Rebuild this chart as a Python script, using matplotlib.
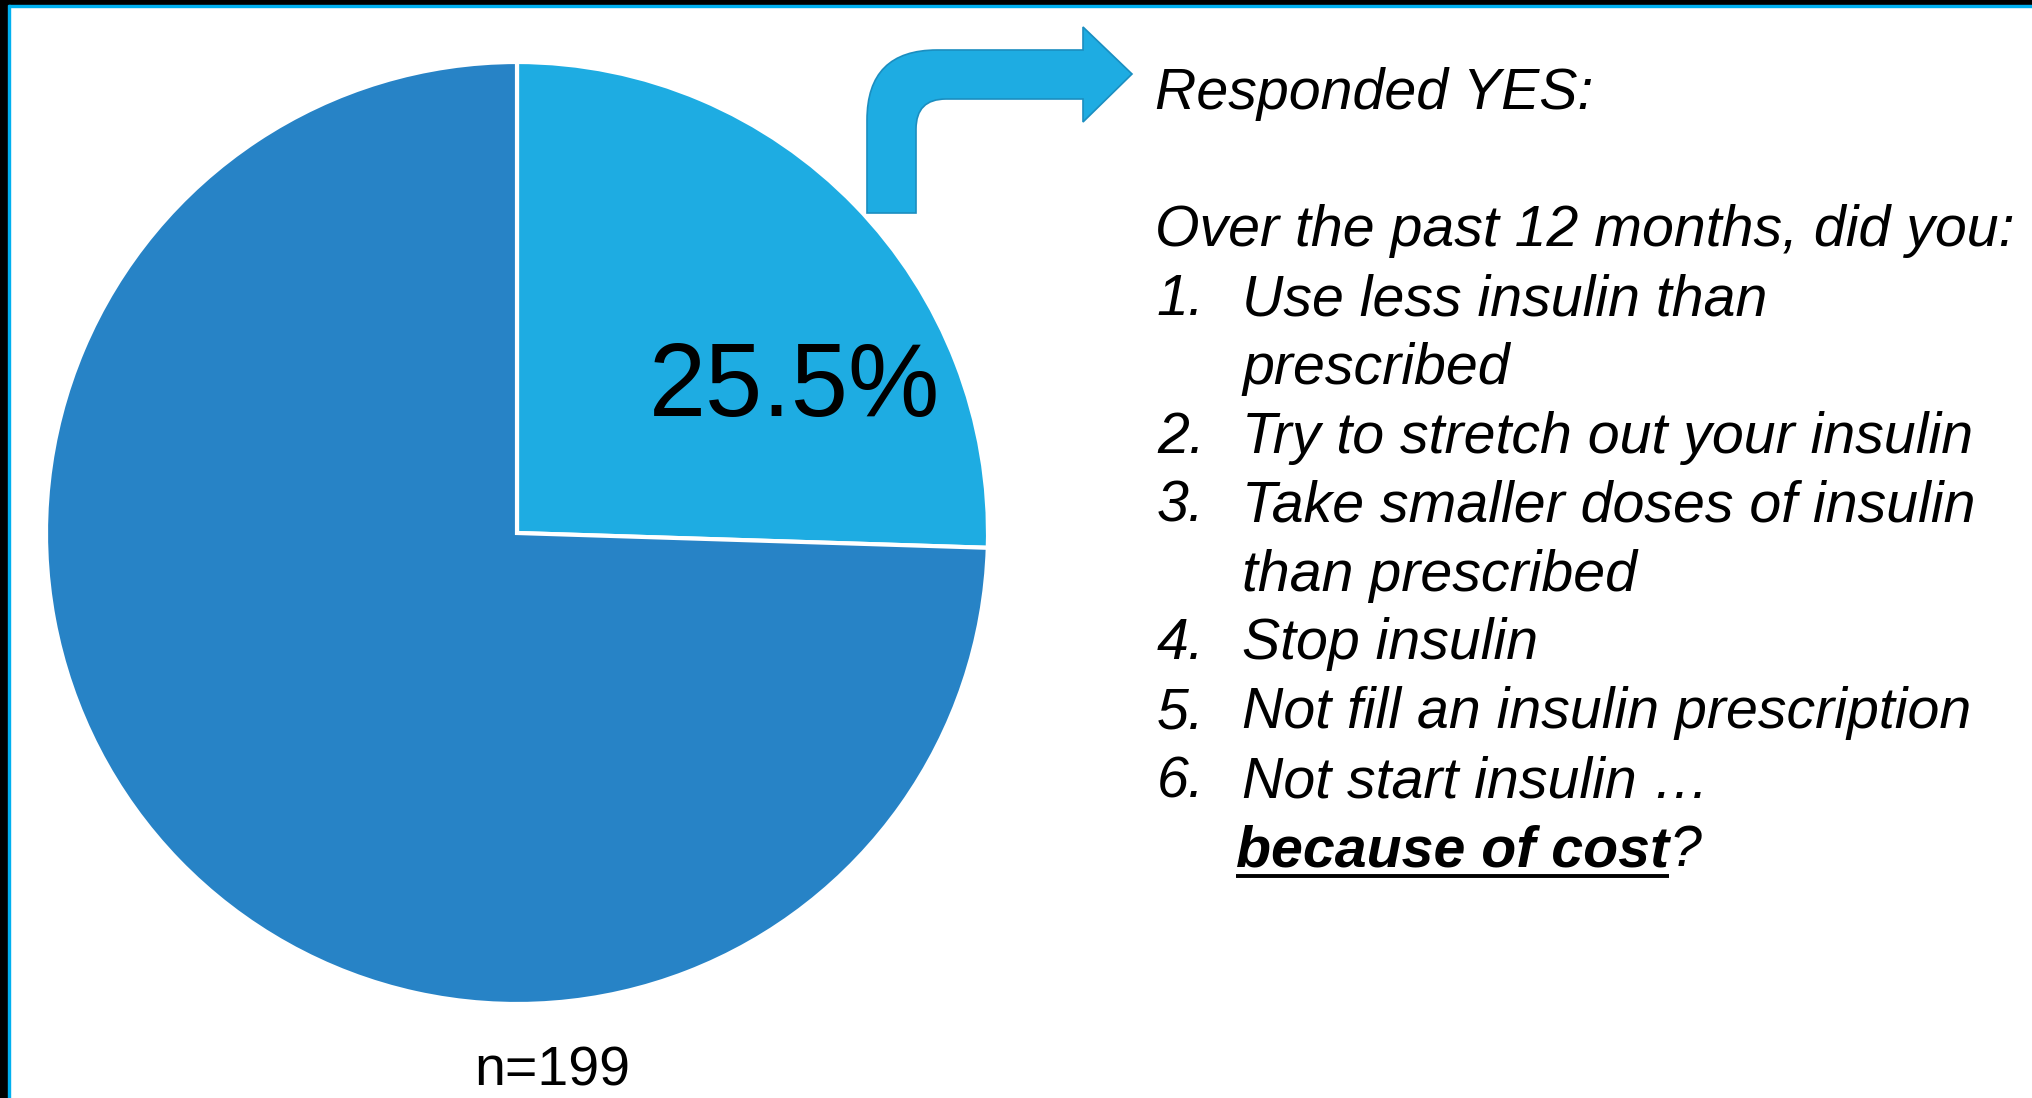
import matplotlib
matplotlib.use("Agg")
import matplotlib.pyplot as plt
from matplotlib.path import Path
from matplotlib.patches import PathPatch, Rectangle

# survey result
share_labels = ["Responded YES", "Responded NO"]
shares = [25.5, 74.5]
n_respondents = 199

heading = "Responded YES:"
question = "Over the past 12 months, did you:"
item_numbers = ["1.", "2.", "3.", "4.", "5.", "6."]
items = [
    ["Use less insulin than", "prescribed"],
    ["Try to stretch out your insulin"],
    ["Take smaller doses of insulin", "than prescribed"],
    ["Stop insulin"],
    ["Not fill an insulin prescription"],
    ["Not start insulin \u2026"],
]
reason = "because of cost"

W, H = 2033, 1098
light_blue = "#1EACE2"
dark_blue = "#2783C6"
font = "Liberation Sans"

fig = plt.figure(figsize=(W / 100, H / 100), dpi=100)
ax = fig.add_axes([0, 0, 1, 1])

def py(y):
    # pixel rows are counted from the top
    return H - y

# pie, starting at 12 o'clock and going clockwise
ax.pie(shares, colors=[light_blue, dark_blue], startangle=90, counterclock=False,
       center=(517, py(533)), radius=471,
       wedgeprops=dict(edgecolor="white", linewidth=3))
ax.set_xlim(0, W)
ax.set_ylim(0, H)
ax.set_aspect("equal")
ax.axis("off")

ax.text(795, py(416), f"{shares[0]}%", fontsize=74, family=font,
        ha="center", va="baseline", color="black")
ax.text(552, py(1086), f"n={n_respondents}", fontsize=40, family=font,
        ha="center", va="baseline", color="black")

# bent arrow pointing at the text
arrow_pts = [(867, 213), (867, 120), (867, 50), (937, 50), (1083, 50), (1083, 27),
             (1132, 74), (1083, 122), (1083, 99), (946, 99), (916, 99), (916, 129),
             (916, 213), (867, 213)]
codes = [Path.MOVETO, Path.LINETO, Path.CURVE3, Path.CURVE3, Path.LINETO, Path.LINETO,
         Path.LINETO, Path.LINETO, Path.LINETO, Path.LINETO, Path.CURVE3, Path.CURVE3,
         Path.LINETO, Path.CLOSEPOLY]
arrow = Path([(x, py(y)) for x, y in arrow_pts], codes)
ax.add_patch(PathPatch(arrow, facecolor=light_blue, edgecolor="#1B8EC0", linewidth=1.2))

# text block
fs = 41.2
x_num, x_txt = 1157, 1242
ax.text(1155, py(109), heading, fontsize=fs, family=font, style="italic", va="baseline")
ax.text(1155, py(246), question, fontsize=fs, family=font, style="italic", va="baseline")

line_gap = 68.9
y = 315
for num, lines in zip(item_numbers, items):
    ax.text(x_num, py(y), num, fontsize=fs, family=font, style="italic", va="baseline")
    for ln in lines:
        ax.text(x_txt, py(y), ln, fontsize=fs, family=font, style="italic", va="baseline")
        y += line_gap

t = ax.text(1236, py(y), reason, fontsize=fs, family=font, style="italic",
            weight="bold", va="baseline")
renderer = fig.canvas.get_renderer()
bb = t.get_window_extent(renderer).transformed(ax.transData.inverted())
ax.text(bb.x1, py(y), "?", fontsize=fs, family=font, style="italic", va="baseline")
ax.plot([1236, bb.x1], [py(y + 10), py(y + 10)], color="black", linewidth=2.8,
        solid_capstyle="butt")

# frame strips along the top and left edges
ax.add_patch(Rectangle((0, py(5)), W, 5, color="black", clip_on=False))
ax.add_patch(Rectangle((0, py(7)), W, 2, color="#00B0F0", clip_on=False))
ax.add_patch(Rectangle((0, 0), 8, H, color="black", clip_on=False))
ax.add_patch(Rectangle((8, 0), 2, py(5), color="#00B0F0", clip_on=False))

fig.savefig("out.png", dpi=100)
